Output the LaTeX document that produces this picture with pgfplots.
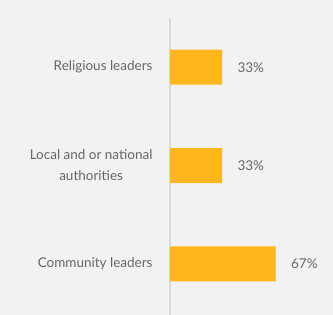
\documentclass[border=0pt]{standalone}
\usepackage{pgfplots}
\pgfplotsset{compat=1.18}
\usepackage{fontspec}
\setmainfont{Lato}
\definecolor{bg}{HTML}{F2F2F2}
\definecolor{barc}{HTML}{FDB71D}
\definecolor{txt}{HTML}{666666}
\definecolor{axc}{HTML}{D9D9D9}
\begin{document}
\begin{tikzpicture}
\fill[bg] (0,0) rectangle (333bp,315bp);
\useasboundingbox (0,0) rectangle (333bp,315bp);
\begin{axis}[
  at={(170bp,0bp)}, anchor=south west,
  scale only axis, width=163bp, height=297bp,
  xbar, bar width=35bp,
  xmin=0, xmax=103.4,
  ymin=-0.5, ymax=2.52, y dir=reverse,
  ytick={0,1,2},
  yticklabels={Religious leaders,{Local and or national\\authorities},Community leaders},
  yticklabel style={align=center, font=\fontsize{13.5bp}{21bp}\selectfont, text=txt, xshift=-14bp},
  major tick length=0pt,
  xtick=\empty,
  axis x line=none,
  axis y line*=left,
  y axis line style={axc, line width=1.5bp, -},
  /pgf/number format/assume math mode=true,
  nodes near coords={\pgfmathprintnumber{\pgfplotspointmeta}\%},
  nodes near coords style={font=\fontsize{13.5bp}{14bp}\selectfont, text=txt, xshift=12bp},
  point meta=x,
]
\addplot[fill=barc, draw=none] coordinates {(33,0) (33,1) (67,2)};
\end{axis}
\end{tikzpicture}
\end{document}
